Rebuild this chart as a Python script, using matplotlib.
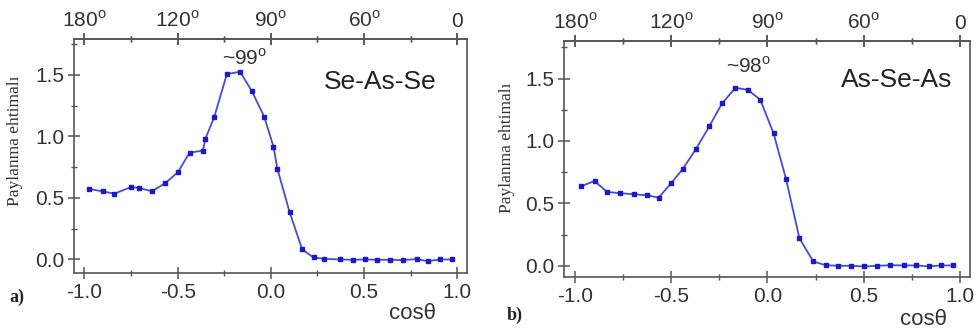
import numpy as np
import matplotlib.pyplot as plt
from matplotlib.ticker import MultipleLocator

# Se-As-Se (a)
x_a = [-0.973, -0.903, -0.839, -0.751, -0.705, -0.638, -0.568, -0.499, -0.436, -0.365,
       -0.351, -0.304, -0.236, -0.165, -0.102, -0.036, 0.014, 0.035, 0.100, 0.168,
       0.229, 0.286, 0.371, 0.439, 0.505, 0.568, 0.639, 0.707, 0.782, 0.841, 0.907, 0.970]
y_a = [0.572, 0.553, 0.534, 0.588, 0.580, 0.553, 0.618, 0.708, 0.867, 0.884,
       0.981, 1.155, 1.505, 1.524, 1.367, 1.160, 0.916, 0.735, 0.387, 0.081,
       0.016, 0.005, 0.000, -0.003, 0.000, -0.003, -0.003, -0.005, 0.003, -0.014, 0.000, 0.000]

# As-Se-As (b)
x_b = [-0.969, -0.897, -0.833, -0.763, -0.694, -0.625, -0.565, -0.500, -0.438, -0.372,
       -0.302, -0.236, -0.166, -0.102, -0.037, 0.032, 0.097, 0.166, 0.238, 0.302,
       0.367, 0.432, 0.501, 0.570, 0.639, 0.708, 0.771, 0.840, 0.900, 0.966]
y_b = [0.637, 0.679, 0.592, 0.581, 0.573, 0.565, 0.546, 0.661, 0.778, 0.933,
       1.116, 1.300, 1.425, 1.410, 1.330, 1.060, 0.693, 0.221, 0.035, 0.005,
       0.000, 0.000, -0.005, 0.000, 0.005, 0.003, 0.003, -0.005, 0.003, 0.003]

x_ticks = [-1.0, -0.5, 0.0, 0.5, 1.0]
x_ticklabels = ['-1.0', '-0.5', '0.0', '0.5', '1.0']
top_ticklabels = ['180$^{\\mathrm{o}}$', '120$^{\\mathrm{o}}$', '90$^{\\mathrm{o}}$',
                  '60$^{\\mathrm{o}}$', '0']
y_ticks = [0.0, 0.5, 1.0, 1.5]

plt.rcParams['font.family'] = ['Liberation Sans', 'DejaVu Sans']
plt.rcParams['mathtext.fontset'] = 'custom'
plt.rcParams['mathtext.rm'] = 'Liberation Sans'

fig = plt.figure(figsize=(9.76, 3.31), dpi=100)
ax1 = fig.add_axes([0.0758, 0.1752, 0.4027, 0.707])
ax2 = fig.add_axes([0.5779, 0.163, 0.416, 0.713])

spine_col = '#555555'
text_col = '#333333'


def style(ax, xs, ys, ylim):
    ax.plot(xs, ys, '-', color='#4a4ad8', lw=1.3, marker='s', ms=3.2,
            mfc='#1a1ac8', mec='#1a1ac8', zorder=3)
    ax.set_xlim(-1.056, 1.052)
    ax.set_ylim(*ylim)
    ax.set_xticks(x_ticks)
    ax.set_xticklabels(x_ticklabels)
    ax.set_yticks(y_ticks)
    ax.xaxis.set_minor_locator(MultipleLocator(0.25))
    ax.yaxis.set_minor_locator(MultipleLocator(0.25))
    for s in ax.spines.values():
        s.set_color(spine_col)
        s.set_linewidth(1.2)
    ax.tick_params(which='major', direction='inout', length=8, width=1.1,
                   color=spine_col, labelsize=15, labelcolor=text_col, pad=3)
    ax.tick_params(which='minor', direction='inout', length=5, width=1.0,
                   color=spine_col)
    ax.tick_params(axis='x', which='both', top=True)
    top = ax.secondary_xaxis('top')
    top.set_xticks(x_ticks)
    top.set_xticklabels(top_ticklabels)
    top.xaxis.set_minor_locator(MultipleLocator(0.25))
    top.spines['top'].set_color(spine_col)
    top.spines['top'].set_linewidth(1.2)
    top.tick_params(which='major', direction='inout', length=8, width=1.1,
                    color=spine_col, labelsize=15, labelcolor=text_col, pad=2)
    top.tick_params(which='minor', direction='inout', length=5, width=1.0,
                    color=spine_col)


style(ax1, x_a, y_a, (-0.11, 1.79))
style(ax2, x_b, y_b, (-0.09, 1.80))

# Panel texts
ax1.text(0.78, 0.816, 'Se-As-Se', transform=ax1.transAxes, fontsize=19,
         color='#222222', ha='center', va='center')
ax2.text(0.82, 0.836, 'As-Se-As', transform=ax2.transAxes, fontsize=19,
         color='#222222', ha='center', va='center')
ax1.text(-0.14, 1.63, '~99$^{\\mathrm{o}}$', fontsize=15, color=text_col,
         ha='center', va='center')
ax2.text(-0.10, 1.60, '~98$^{\\mathrm{o}}$', fontsize=15, color=text_col,
         ha='center', va='center')

fig.text(0.0154, 0.574, 'Paylanma ehtimalı', rotation=90, family='Liberation Serif',
         fontsize=12.5, color='#333333', ha='center', va='center')
fig.text(0.519, 0.555, 'Paylanma ehtimalı', rotation=90, family='Liberation Serif',
         fontsize=12.5, color='#333333', ha='center', va='center')
fig.text(0.010, 0.103, 'a)', family='Liberation Serif', fontweight='bold',
         fontsize=13, color='#222222', ha='left', va='center')
fig.text(0.519, 0.048, 'b)', family='Liberation Serif', fontweight='bold',
         fontsize=13, color='#222222', ha='left', va='center')
fig.text(0.423, 0.054, 'cosθ', fontsize=16, color=text_col, ha='center', va='center')
fig.text(0.946, 0.034, 'cosθ', fontsize=16, color=text_col, ha='center', va='center')

plt.savefig('out.png', dpi=100)
